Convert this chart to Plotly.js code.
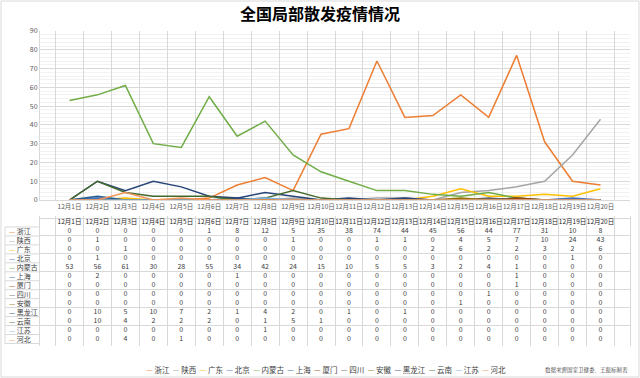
<!DOCTYPE html>
<html><head><meta charset="utf-8">
<script src="https://cdn.plot.ly/plotly-3.0.1.min.js"></script>
<style>html,body{margin:0;padding:0;background:#fff}#chart{width:640px;height:378px}</style>
</head><body><div id="chart"></div>
<script>
const dates = ['12月1日','12月2日','12月3日','12月4日','12月5日','12月6日','12月7日','12月8日','12月9日','12月10日','12月11日','12月12日','12月13日','12月14日','12月15日','12月16日','12月17日','12月18日','12月19日','12月20日'];
const names = ['浙江','陕西','广东','北京','内蒙古','上海','厦门','四川','安徽','黑龙江','云南','江苏','河北'];
const zhejiang     = [0,0,0,0,0,1,8,12,5,35,38,74,44,45,56,44,77,31,10,8];
const shaanxi      = [0,1,0,0,0,0,0,0,1,0,0,1,1,0,4,5,7,10,24,43];
const guangdong    = [0,0,1,0,0,0,0,0,0,0,0,0,0,2,6,2,2,3,2,6];
const beijing      = [0,1,0,0,0,0,0,0,0,0,0,0,0,0,0,0,0,0,1,0];
const neimenggu    = [53,56,61,30,28,55,34,42,24,15,10,5,5,3,2,4,1,0,0,0];
const shanghai     = [0,2,0,0,0,0,1,0,0,0,0,0,0,0,0,0,1,0,0,0];
const xiamen       = [0,0,0,0,0,0,0,0,0,0,0,0,0,0,0,0,1,0,0,0];
const sichuan      = [0,0,0,0,0,0,0,0,0,0,0,0,0,0,0,1,0,0,0,0];
const anhui        = [0,0,0,0,0,0,0,0,0,0,0,0,0,0,1,0,0,0,0,0];
const heilongjiang = [0,10,5,10,7,2,1,4,2,0,1,0,1,0,0,0,0,0,0,0];
const yunnan       = [0,10,4,2,2,2,0,1,5,1,0,0,0,0,0,0,0,0,0,0];
const jiangsu      = [0,0,0,0,0,0,0,1,0,0,0,0,0,0,0,0,0,0,0,0];
const hebei        = [0,0,4,0,1,0,0,0,0,0,0,0,0,0,0,0,0,0,0,0];
const seriesValues = [zhejiang,shaanxi,guangdong,beijing,neimenggu,shanghai,xiamen,sichuan,anhui,heilongjiang,yunnan,jiangsu,hebei];
const colors = ['#ED7D31','#A5A5A5','#FFC000','#4472C4','#70AD47','#255E91','#9E480E','#636363','#997300','#264478','#43682B','#7CAFDD','#F1975A'];

const FONT = '"Noto Sans CJK SC", "Noto Sans", sans-serif';
const traces = [];
names.forEach((n,i)=>{
  traces.push({type:'scatter',mode:'lines',name:n,x:dates,y:seriesValues[i],xaxis:'x',yaxis:'y',
    line:{color:colors[i],width:1.5},showlegend:false,hoverinfo:'skip'});
});
// table header row
traces.push({type:'scatter',mode:'text',x:dates,y:dates.map(()=>'hdr'),text:dates,xaxis:'x',yaxis:'y2',
  textfont:{size:6.5,color:'#262626',family:FONT},showlegend:false,hoverinfo:'skip'});
names.forEach((n,i)=>{
  traces.push({type:'scatter',mode:'text',x:dates,y:dates.map(()=>n),text:seriesValues[i].map(String),xaxis:'x',yaxis:'y2',
    textfont:{size:7,color:'#404040',family:FONT},showlegend:false,hoverinfo:'skip'});
});

const W=640,H=378,ml=40,mr=10,mt=31,mb=32;
const pw=W-ml-mr, ph=H-mt-mb;
const rows=['hdr'].concat(names);
const leftX=-35/pw;
const annotations=[];
names.forEach((n,i)=>{
  annotations.push({xref:'paper',yref:'y2',x:leftX+2/pw,y:n,xanchor:'left',yanchor:'middle',showarrow:false,
    text:'<span style="color:'+colors[i]+'">—</span> '+n,font:{size:7,color:'#404040',family:FONT}});
});
annotations.push({xref:'paper',yref:'paper',x:0.485,y:-23/ph,xanchor:'center',yanchor:'middle',showarrow:false,
  text:names.map((n,i)=>'<span style="color:'+colors[i]+'">—</span> '+n).join('  '),font:{size:7.5,color:'#404040',family:FONT}});
annotations.push({xref:'paper',yref:'paper',x:1,y:-24/ph,xanchor:'right',yanchor:'middle',showarrow:false,
  text:'数据来源国家卫健委、王振标制表',font:{size:5.5,color:'#404040',family:'"Noto Serif CJK SC", "Noto Sans CJK SC", serif'}});

const shapes=[];
for(let k=1;k<=rows.length;k++){
  shapes.push({type:'line',xref:'paper',yref:'y2',x0:leftX,x1:0,y0:k-0.5,y1:k-0.5,line:{color:'#D9D9D9',width:1}});
}
shapes.push({type:'line',xref:'paper',yref:'y2',x0:leftX,x1:leftX,y0:0.5,y1:rows.length-0.5,line:{color:'#D9D9D9',width:1}});
shapes.push({type:'rect',xref:'paper',yref:'paper',x0:-(ml-1)/pw,x1:1+(mr-1)/pw,y0:-(mb-1)/ph,y1:1+(mt-1)/ph,line:{color:'#D9D9D9',width:1}});

const tableTop=346-216, mainBottom=346-200;
const layout={
  width:W,height:H,margin:{l:ml,r:mr,t:mt,b:mb},
  paper_bgcolor:'#fff',plot_bgcolor:'#fff',
  font:{family:FONT,color:'#595959'},
  title:{text:'<b>全国局部散发疫情情况</b>',x:0.5,xanchor:'center',y:1-14/H,yref:'container',yanchor:'middle',
    font:{size:16,color:'#000',family:FONT}},
  xaxis:{type:'category',categoryorder:'array',categoryarray:dates,tickson:'boundaries',showgrid:true,gridcolor:'#D9D9D9',gridwidth:1,
    tickfont:{size:6.5,color:'#595959'},tickangle:0,ticks:'',showline:true,linecolor:'#D9D9D9',zeroline:false,anchor:'y',fixedrange:true},
  yaxis:{domain:[mainBottom/ph,1],range:[0,90],dtick:10,tickfont:{size:7,color:'#595959'},gridcolor:'#D9D9D9',gridwidth:1,
    minor:{dtick:2,showgrid:true,gridcolor:'#F2F2F2'},zeroline:false,showline:true,linecolor:'#D9D9D9',ticks:'',anchor:'x'},
  yaxis2:{domain:[0,tableTop/ph],type:'category',categoryorder:'array',categoryarray:rows,autorange:'reversed',tickson:'boundaries',
    showgrid:true,gridcolor:'#D9D9D9',showticklabels:false,ticks:'',zeroline:false,showline:true,mirror:true,linecolor:'#D9D9D9',anchor:'x'},
  annotations:annotations,shapes:shapes,showlegend:false
};
Plotly.newPlot('chart',traces,layout,{staticPlot:true});
</script></body></html>
